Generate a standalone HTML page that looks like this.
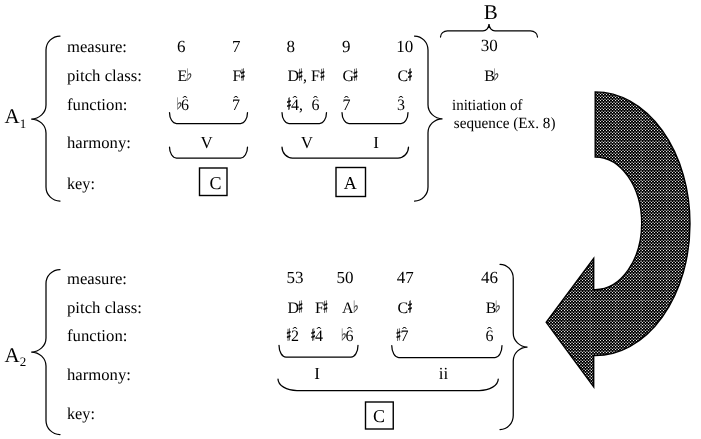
<!DOCTYPE html>
<html><head><meta charset="utf-8"><title>Figure</title>
<style>
html,body{margin:0;padding:0;background:#fff}
svg{display:block;will-change:transform;text-rendering:geometricPrecision}
text{font-family:'Liberation Serif','DejaVu Serif',serif;fill:#000}
.acc{font-family:'Noto Sans CJK JP','DejaVu Sans',sans-serif}
.ln{fill:none;stroke:#000;stroke-width:1.25;stroke-linecap:round}
.bx{fill:none;stroke:#000;stroke-width:1.4}
</style></head><body>
<svg width="701" height="439" viewBox="0 0 701 439">
<defs>
<pattern id="dots" x="0" y="1" width="3" height="3" patternUnits="userSpaceOnUse">
<rect width="3" height="3" fill="#000"/>
<rect x="0" y="0" width="1" height="1" fill="#e4e4e4"/>
<rect x="1" y="1" width="2" height="1" fill="#303030"/>
<rect x="1" y="2" width="2" height="1" fill="#707070"/>
</pattern>
</defs>
<rect width="701" height="439" fill="#fff"/>
<text x="67" y="51.75" font-size="16.6" textLength="59.9" lengthAdjust="spacingAndGlyphs">measure:</text>
<text x="67" y="80.75" font-size="16.6" textLength="74.9" lengthAdjust="spacingAndGlyphs">pitch class:</text>
<text x="67" y="109.5" font-size="16.6" textLength="60.4" lengthAdjust="spacingAndGlyphs">function:</text>
<text x="67" y="147.5" font-size="16.6" textLength="63.9" lengthAdjust="spacingAndGlyphs">harmony:</text>
<text x="67" y="189" font-size="16.6" textLength="27.9" lengthAdjust="spacingAndGlyphs">key:</text>
<text x="4.5" y="123" font-size="21">A<tspan font-size="13" dy="4.7">1</tspan></text>
<path d="M60 36 A14 14 0 0 0 46 50 L46 105 A14.8 14 0 0 1 31.2 119 A14.8 14 0 0 1 46 133 L46 187 A14 14 0 0 0 60 201" class="ln"/>
<text x="177" y="51.6" font-size="17">6</text>
<text x="232" y="51.6" font-size="17">7</text>
<text x="286.6" y="51.6" font-size="17">8</text>
<text x="342" y="51.6" font-size="17">9</text>
<text x="396.3" y="51.6" font-size="17">10</text>
<text x="177.5" y="80.75" font-size="16">E</text>
<text transform="translate(184.1 79.75) scale(0.7 1)" font-size="14" class="acc" stroke="#000" stroke-width="0.1" vector-effect="non-scaling-stroke" opacity="0.8">♭</text>
<text x="232.5" y="80.75" font-size="16">F</text>
<text transform="translate(239.5 79.75) scale(0.46 1)" font-size="14" class="acc" stroke="#000" stroke-width="0.5" vector-effect="non-scaling-stroke">♯</text>
<text x="287.5" y="80.75" font-size="16">D</text>
<text transform="translate(297.3 79.75) scale(0.46 1)" font-size="14" class="acc" stroke="#000" stroke-width="0.5" vector-effect="non-scaling-stroke">♯</text>
<text x="303" y="80.75" font-size="16">, F</text>
<text transform="translate(319.3 79.75) scale(0.46 1)" font-size="14" class="acc" stroke="#000" stroke-width="0.5" vector-effect="non-scaling-stroke">♯</text>
<text x="342.5" y="80.75" font-size="16">G</text>
<text transform="translate(352.3 79.75) scale(0.46 1)" font-size="14" class="acc" stroke="#000" stroke-width="0.5" vector-effect="non-scaling-stroke">♯</text>
<text x="397.5" y="80.75" font-size="16">C</text>
<text transform="translate(406.8 79.75) scale(0.46 1)" font-size="14" class="acc" stroke="#000" stroke-width="0.5" vector-effect="non-scaling-stroke">♯</text>
<text transform="translate(174.1 108.5) scale(0.7 1)" font-size="14" class="acc" stroke="#000" stroke-width="0.1" vector-effect="non-scaling-stroke" opacity="0.8">♭</text>
<text x="181" y="109.5" font-size="16">6</text>
<text x="185" y="105.5" font-size="14.5" text-anchor="middle">ˆ</text>
<text x="232" y="109.5" font-size="16">7</text>
<text x="236" y="105.5" font-size="14.5" text-anchor="middle">ˆ</text>
<text transform="translate(285.7 108.5) scale(0.46 1)" font-size="14" class="acc" stroke="#000" stroke-width="0.5" vector-effect="non-scaling-stroke">♯</text>
<text x="291" y="109.5" font-size="16">4,</text>
<text x="295" y="105.5" font-size="14.5" text-anchor="middle">ˆ</text>
<text x="311.5" y="109.5" font-size="16">6</text>
<text x="315.5" y="105.5" font-size="14.5" text-anchor="middle">ˆ</text>
<text x="342.5" y="109.5" font-size="16">7</text>
<text x="346.5" y="105.5" font-size="14.5" text-anchor="middle">ˆ</text>
<text x="397" y="109.5" font-size="16">3</text>
<text x="401" y="105.5" font-size="14.5" text-anchor="middle">ˆ</text>
<path d="M169.5 112.5 A7 11.0 0 0 0 176.5 123.5 L240.5 123.5 A7 11.0 0 0 0 247.5 112.5" class="ln"/>
<path d="M282 112.5 A7 11.0 0 0 0 289 123.5 L319.5 123.5 A7 11.0 0 0 0 326.5 112.5" class="ln"/>
<path d="M342 112.5 A7 11.0 0 0 0 349 123.5 L401 123.5 A7 11.0 0 0 0 408 112.5" class="ln"/>
<text x="206.6" y="147.5" font-size="17" text-anchor="middle">V</text>
<text x="307" y="147.5" font-size="17" text-anchor="middle">V</text>
<text x="376" y="147.5" font-size="17" text-anchor="middle">I</text>
<path d="M169.5 147 A7 11 0 0 0 176.5 158 L240.5 158 A7 11 0 0 0 247.5 147" class="ln"/>
<path d="M282 147 A10.5 11 0 0 0 292.5 158 L398.0 158 A10.5 11 0 0 0 408.5 147" class="ln"/>
<rect x="199.5" y="168" width="27.5" height="27.5" class="bx"/>
<text x="215.6" y="189.25" font-size="18" text-anchor="middle">C</text>
<rect x="336" y="167.5" width="29.5" height="29.0" class="bx"/>
<text x="350.25" y="189" font-size="18" text-anchor="middle">A</text>
<g transform="translate(474.5 0) scale(-1 1)">
<path d="M60 36 A13.5 14 0 0 0 46.5 50 L46.5 104.75 A14.5 14 0 0 1 32 118.75 A14.5 14 0 0 1 46.5 132.75 L46.5 187 A13.5 14 0 0 0 60 201" class="ln"/>
</g>
<text x="490.8" y="19" font-size="21" text-anchor="middle">B</text>
<path d="M440.5 37 A7 6.2 0 0 1 447.5 30.8 L483 30.8 A6 6.8 0 0 0 489 24 A6 6.8 0 0 0 495 30.8 L530.5 30.8 A7 6.2 0 0 1 537.5 37" class="ln"/>
<text x="480.8" y="51.4" font-size="17">30</text>
<text x="484.25" y="80.5" font-size="16">B</text>
<text transform="translate(491 79.5) scale(0.7 1)" font-size="14" class="acc" stroke="#000" stroke-width="0.1" vector-effect="non-scaling-stroke" opacity="0.8">♭</text>
<text x="452" y="110" font-size="15.6" textLength="70.5" lengthAdjust="spacingAndGlyphs">initiation of</text>
<text x="453.75" y="127.5" font-size="15.6" textLength="101.75" lengthAdjust="spacingAndGlyphs">sequence (Ex. 8)</text>
<text x="67" y="283.8" font-size="16.6" textLength="59.9" lengthAdjust="spacingAndGlyphs">measure:</text>
<text x="67" y="312.7" font-size="16.6" textLength="74.9" lengthAdjust="spacingAndGlyphs">pitch class:</text>
<text x="67" y="341.4" font-size="16.6" textLength="60.4" lengthAdjust="spacingAndGlyphs">function:</text>
<text x="67" y="379.7" font-size="16.6" textLength="63.9" lengthAdjust="spacingAndGlyphs">harmony:</text>
<text x="67" y="418.8" font-size="16.6" textLength="27.9" lengthAdjust="spacingAndGlyphs">key:</text>
<text x="4.5" y="361.5" font-size="21">A<tspan font-size="13" dy="4.7">2</tspan></text>
<path d="M60 269.5 A14 14 0 0 0 46 283.5 L46 338 A14.8 14 0 0 1 31.2 352 A14.8 14 0 0 1 46 366 L46 420.5 A14 14 0 0 0 60 434.5" class="ln"/>
<text x="286.6" y="283.4" font-size="17">53</text>
<text x="336.5" y="283.4" font-size="17">50</text>
<text x="396.8" y="283.4" font-size="17">47</text>
<text x="481" y="283.4" font-size="17">46</text>
<text x="287.5" y="312.5" font-size="16">D</text>
<text transform="translate(297.2 311.5) scale(0.46 1)" font-size="14" class="acc" stroke="#000" stroke-width="0.5" vector-effect="non-scaling-stroke">♯</text>
<text x="315" y="312.5" font-size="16">F</text>
<text transform="translate(322.3 311.5) scale(0.46 1)" font-size="14" class="acc" stroke="#000" stroke-width="0.5" vector-effect="non-scaling-stroke">♯</text>
<text x="342" y="312.5" font-size="16">A</text>
<text transform="translate(350.6 311.5) scale(0.7 1)" font-size="14" class="acc" stroke="#000" stroke-width="0.1" vector-effect="non-scaling-stroke" opacity="0.8">♭</text>
<text x="397.5" y="312.5" font-size="16">C</text>
<text transform="translate(406.8 311.5) scale(0.46 1)" font-size="14" class="acc" stroke="#000" stroke-width="0.5" vector-effect="non-scaling-stroke">♯</text>
<text x="485.75" y="312.5" font-size="16">B</text>
<text transform="translate(492.5 311.5) scale(0.7 1)" font-size="14" class="acc" stroke="#000" stroke-width="0.1" vector-effect="non-scaling-stroke" opacity="0.8">♭</text>
<text transform="translate(285.4 340.25) scale(0.46 1)" font-size="14" class="acc" stroke="#000" stroke-width="0.5" vector-effect="non-scaling-stroke">♯</text>
<text x="291" y="341.25" font-size="16">2</text>
<text x="295" y="337.25" font-size="14.5" text-anchor="middle">ˆ</text>
<text transform="translate(309.9 340.25) scale(0.46 1)" font-size="14" class="acc" stroke="#000" stroke-width="0.5" vector-effect="non-scaling-stroke">♯</text>
<text x="315" y="341.25" font-size="16">4</text>
<text x="319" y="337.25" font-size="14.5" text-anchor="middle">ˆ</text>
<text transform="translate(338.6 340.25) scale(0.7 1)" font-size="14" class="acc" stroke="#000" stroke-width="0.1" vector-effect="non-scaling-stroke" opacity="0.8">♭</text>
<text x="345.5" y="341.25" font-size="16">6</text>
<text x="349.5" y="337.25" font-size="14.5" text-anchor="middle">ˆ</text>
<text transform="translate(395.3 340.25) scale(0.46 1)" font-size="14" class="acc" stroke="#000" stroke-width="0.5" vector-effect="non-scaling-stroke">♯</text>
<text x="400.5" y="341.25" font-size="16">7</text>
<text x="404.5" y="337.25" font-size="14.5" text-anchor="middle">ˆ</text>
<text x="485.5" y="341.25" font-size="16">6</text>
<text x="489.5" y="337.25" font-size="14.5" text-anchor="middle">ˆ</text>
<path d="M279 345.25 A7 11.75 0 0 0 286 357 L351 357 A7 11.75 0 0 0 358 345.25" class="ln"/>
<path d="M391.75 345.5 A7 12.0 0 0 0 398.75 357.5 L495 357.5 A7 12.0 0 0 0 502 345.5" class="ln"/>
<text x="317" y="379" font-size="17" text-anchor="middle">I</text>
<text x="443.5" y="379" font-size="17" text-anchor="middle">ii</text>
<path d="M278 379 A19 11.5 0 0 0 297 390.5 L479.25 390.5 A19 11.5 0 0 0 498.25 379" class="ln"/>
<rect x="365.5" y="402" width="27.75" height="27" class="bx"/>
<text x="379.1" y="422" font-size="18" text-anchor="middle">C</text>
<g transform="translate(559.5 0) scale(-1 1)">
<path d="M59.5 264.25 A13.25 14 0 0 0 46.25 278.25 L46.25 333 A14.25 14 0 0 1 32 347 A14.25 14 0 0 1 46.25 361 L46.25 415.5 A13.25 14 0 0 0 59.5 429.5" class="ln"/>
</g>
<clipPath id="ac"><path d="M595.2 91.9 A94.8 131.85 0 0 1 595.2 355.6 L593.7 355.6 L593.7 386.9 L546.2 322.3 L593.7 258.3 L593.7 289.6 L595.2 289.6 A46.5 66.3 0 0 0 595.2 157 Z"/></clipPath>
<path d="M595.2 91.9 A94.8 131.85 0 0 1 595.2 355.6 L593.7 355.6 L593.7 386.9 L546.2 322.3 L593.7 258.3 L593.7 289.6 L595.2 289.6 A46.5 66.3 0 0 0 595.2 157 Z" fill="url(#dots)"/>
<g clip-path="url(#ac)" stroke="#fff" stroke-opacity="0.13" stroke-width="1"><path d="M540 117 H701"/><path d="M540 142.5 H701"/><path d="M540 168 H701"/><path d="M540 193.5 H701"/><path d="M540 219 H701"/><path d="M540 247 H701"/><path d="M540 275 H701"/><path d="M540 300.5 H701"/><path d="M540 326 H701"/><path d="M540 352 H701"/><path d="M540 377 H701"/><path d="M565 85 V395"/><path d="M590.5 85 V395"/><path d="M616 85 V395"/><path d="M641.5 85 V395"/><path d="M667 85 V395"/></g>
<path d="M595.2 91.9 A94.8 131.85 0 0 1 595.2 355.6 L593.7 355.6 L593.7 386.9 L546.2 322.3 L593.7 258.3 L593.7 289.6 L595.2 289.6 A46.5 66.3 0 0 0 595.2 157 Z" fill="none" stroke="#000" stroke-width="1.4" stroke-linejoin="miter"/>
</svg>
</body></html>
